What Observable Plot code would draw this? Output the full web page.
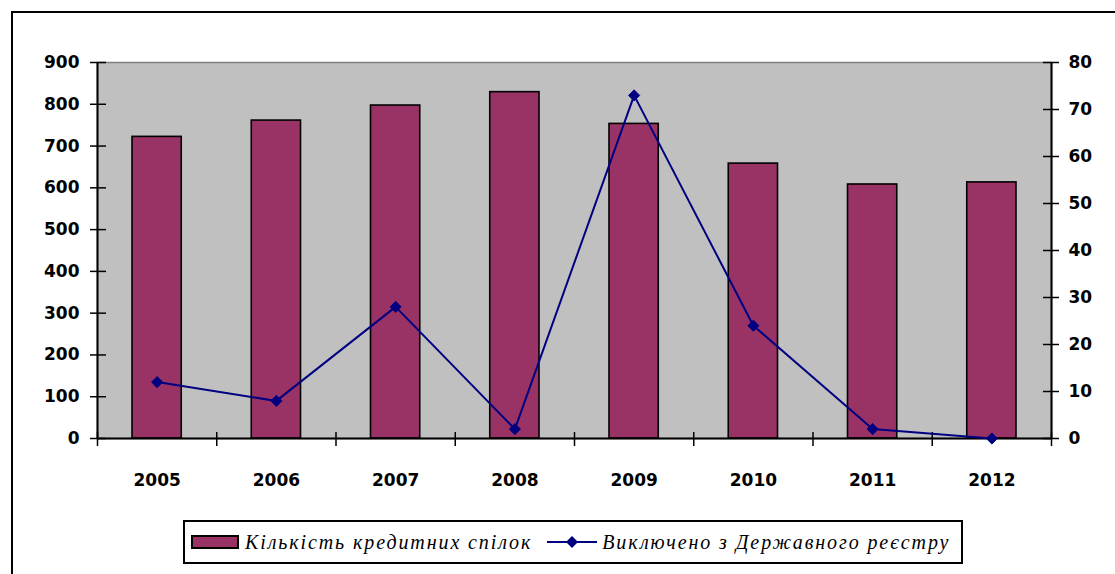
<!DOCTYPE html>
<html><head><meta charset="utf-8">
<script src="https://cdn.jsdelivr.net/npm/d3@7"></script>
<script src="https://cdn.jsdelivr.net/npm/@observablehq/plot@0.6"></script>
<style>
body{margin:0;background:#fff;overflow:hidden;width:1115px;height:574px;position:relative;}
#chart svg{display:block;}
#frame{position:absolute;left:11px;top:11px;width:1200px;height:700px;border:2px solid #000;pointer-events:none;}
#legend{position:absolute;left:183px;top:520px;width:780px;height:44px;border:2px solid #000;box-sizing:border-box;
  font-family:'Liberation Serif','Times New Roman','DejaVu Serif',serif;font-style:italic;font-size:20px;letter-spacing:1.9px;display:flex;align-items:center;white-space:nowrap;}
#legend .sw{display:inline-block;width:44px;height:10px;background:#993366;border:2px solid #000;margin-left:6px;margin-right:6px;}
#legend svg{margin-left:14px;margin-right:4px;}
</style></head><body>
<div id="chart"></div>
<div id="legend"></div>
<div id="frame"></div>
<script>
const years = [2005, 2006, 2007, 2008, 2009, 2010, 2011, 2012];
const unions = [722, 761, 797, 829, 753, 658, 608, 613];
const excluded = [12, 8, 28, 2, 73, 24, 2, 0];
const leftTicks = [0, 100, 200, 300, 400, 500, 600, 700, 800, 900];
const rightTicks = [0, 10, 20, 30, 40, 50, 60, 70, 80];
const seriesNames = ["Кількість кредитних спілок", "Виключено з Державного реєстру"];
const barColor = "#993366", lineColor = "#000080";

const yMax = 900, y2Max = 80, k = yMax / y2Max;
const data = years.map((y, i) => ({year: y, unions: unions[i], excluded: excluded[i]}));
const boundaries = d3.range(years.length + 1).map(i => years[0] - 0.5 + i);
const W = 1115, H = 510, mL = 97, mR = 64, mT = 62, mB = 72;
const fw = W - mL - mR, fh = H - mT - mB;

const plot = Plot.plot({
  width: W, height: H, marginLeft: mL, marginRight: mR, marginTop: mT, marginBottom: mB,
  x: {domain: [boundaries[0], boundaries[boundaries.length - 1]], label: null},
  y: {domain: [0, yMax], label: null},
  style: {fontFamily: "DejaVu Sans", fontSize: "17px", fontWeight: "bold", color: "#000", background: "transparent"},
  marks: [
    Plot.frame({fill: "#c0c0c0", stroke: "#808080", strokeWidth: 1.5}),
    Plot.rectY(data, {x1: d => d.year - 0.5, x2: d => d.year + 0.5, y: "unions", insetLeft: 35, insetRight: 35,
      fill: barColor, stroke: "#000", strokeWidth: 1.6}),
    Plot.ruleX([boundaries[0], boundaries[boundaries.length - 1]], {stroke: "#000", strokeWidth: 2}),
    Plot.ruleY([0], {stroke: "#000", strokeWidth: 2}),
    Plot.tickY(leftTicks, {y: d => d, insetLeft: -7, insetRight: fw - 9, stroke: "#000", strokeWidth: 1.5}),
    Plot.tickY(rightTicks.map(v => v * k), {y: d => d, insetLeft: fw - 8, insetRight: -8, stroke: "#000", strokeWidth: 1.5}),
    Plot.tickX(boundaries, {x: d => d, insetTop: fh - 6, insetBottom: -8, stroke: "#000", strokeWidth: 1.5}),
    Plot.axisY(leftTicks, {anchor: "left", tickSize: 0, tickPadding: 18, label: null}),
    Plot.axisY(rightTicks.map(v => v * k), {anchor: "right", tickSize: 0, tickPadding: 17, label: null,
      tickFormat: d => String(Math.round(d / k))}),
    Plot.axisX(years, {anchor: "bottom", tickSize: 0, tickPadding: 35, label: null, tickFormat: d => String(d)}),
    Plot.line(data, {x: "year", y: d => d.excluded * k, stroke: lineColor, strokeWidth: 2}),
    Plot.dot(data, {x: "year", y: d => d.excluded * k, symbol: "diamond2", r: 5, fill: lineColor, stroke: lineColor, strokeWidth: 1})
  ]
});
document.getElementById("chart").appendChild(plot);

const lg = document.getElementById("legend");
lg.innerHTML = `<span class="sw"></span><span>${seriesNames[0]}</span>
<svg width="52" height="16"><line x1="1" y1="8" x2="51" y2="8" stroke="${lineColor}" stroke-width="2"/>
<path d="M26,2 L32,8 L26,14 L20,8 Z" fill="${lineColor}"/></svg><span>${seriesNames[1]}</span>`;
</script>
</body></html>
